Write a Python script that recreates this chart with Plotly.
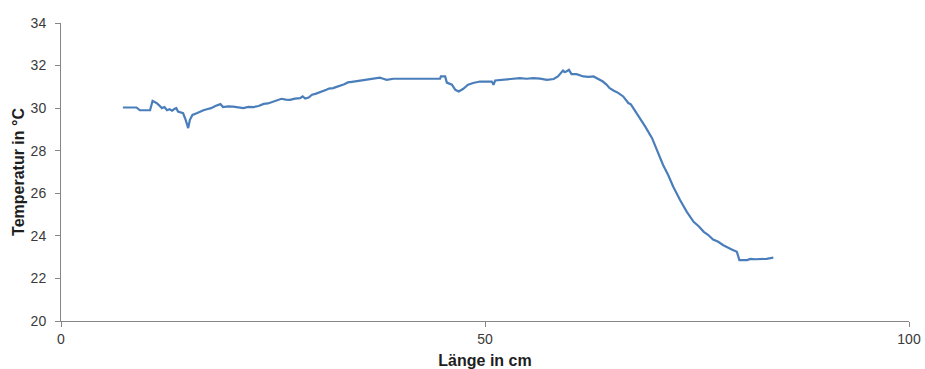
import plotly.graph_objects as go

# Temperature profile along the sample
laenge_cm = [7.3, 8.0, 8.9, 9.3, 10.0, 10.5, 10.8, 11.3, 11.6, 11.9, 12.2, 12.5, 12.8, 13.1,
             13.4, 13.6, 13.8, 14.4, 14.7, 15.0, 15.2, 15.5, 16.0, 16.4, 16.8, 17.2, 17.7,
             18.2, 18.8, 19.1, 19.7, 20.3, 20.9, 21.5, 22.1, 22.7, 23.3, 23.9, 24.4, 25.0,
             25.5, 26.0, 26.5, 27.0, 27.6, 28.2, 28.5, 28.8, 29.2, 29.6, 30.0, 30.5, 30.9,
             31.3, 31.6, 32.1, 32.5, 32.9, 33.4, 33.9, 34.1, 34.7, 35.3, 35.9, 36.4, 37.0,
             37.6, 38.0, 38.4, 39.2, 44.7, 44.8, 45.3, 45.5, 46.1, 46.5, 46.9, 47.4, 48.0,
             48.6, 49.4, 50.8, 51.0, 51.2, 51.9, 52.6, 53.3, 54.1, 54.9, 55.7, 56.5, 57.3,
             58.1, 58.6, 59.2, 59.4, 59.6, 59.9, 60.2, 60.8, 61.6, 62.2, 62.8, 63.2, 63.6,
             63.9, 64.3, 64.7, 65.2, 65.7, 66.3, 66.9, 67.2, 67.5, 68.1, 68.5, 68.9, 69.7,
             70.4, 71.0, 71.6, 72.2, 73.0, 73.8, 74.6, 75.2, 75.8, 76.3, 76.9, 77.5, 78.1,
             78.6, 79.1, 79.7, 80.0, 80.9, 81.3, 81.9, 82.4, 83.2, 84.0]
temperatur_c = [30.03, 30.02, 30.03, 29.9, 29.9, 29.9, 30.34, 30.23, 30.12, 30.0, 30.05, 29.9,
                29.95, 29.88, 29.97, 30.0, 29.84, 29.76, 29.45, 29.06, 29.45, 29.68, 29.76,
                29.84, 29.9, 29.95, 30.0, 30.1, 30.19, 30.05, 30.08, 30.07, 30.03, 30.0, 30.06,
                30.05, 30.1, 30.2, 30.22, 30.31, 30.36, 30.44, 30.4, 30.39, 30.45, 30.47,
                30.55, 30.45, 30.5, 30.63, 30.67, 30.73, 30.8, 30.86, 30.92, 30.94, 31.0,
                31.05, 31.12, 31.22, 31.22, 31.26, 31.3, 31.33, 31.37, 31.4, 31.43, 31.38,
                31.33, 31.38, 31.38, 31.49, 31.49, 31.2, 31.1, 30.86, 30.78, 30.9, 31.1,
                31.18, 31.25, 31.25, 31.1, 31.3, 31.33, 31.37, 31.4, 31.41, 31.38, 31.41,
                31.39, 31.33, 31.37, 31.49, 31.77, 31.7, 31.72, 31.8, 31.6, 31.6, 31.49,
                31.47, 31.49, 31.41, 31.33, 31.25, 31.12, 30.94, 30.82, 30.72, 30.55, 30.24,
                30.18, 30.0, 29.6, 29.4, 29.13, 28.59, 27.88, 27.33, 26.86, 26.31, 25.68,
                25.13, 24.66, 24.45, 24.19, 24.05, 23.83, 23.72, 23.56, 23.45, 23.36, 23.25,
                22.86, 22.86, 22.92, 22.9, 22.9, 22.92, 22.98]

x_ticks = [0, 50, 100]
y_ticks = [20, 22, 24, 26, 28, 30, 32, 34]

axis_color = "#868686"
text_color = "#3A3A3A"
title_color = "#1E1E1E"
font_family = "Liberation Sans, Arial, sans-serif"

fig = go.Figure(
    go.Scatter(
        x=laenge_cm,
        y=temperatur_c,
        mode="lines",
        line=dict(color="#4A7EBB", width=2.2),
        showlegend=False,
    )
)

fig.update_layout(
    width=925,
    height=369,
    margin=dict(l=61, r=16, t=23, b=48),
    paper_bgcolor="white",
    plot_bgcolor="white",
    font=dict(family=font_family, size=14, color=text_color),
)

fig.update_xaxes(
    range=[0, 100],
    tickvals=x_ticks,
    automargin=False,
    showgrid=False,
    zeroline=False,
    showline=True,
    linecolor=axis_color,
    linewidth=1,
    ticks="outside",
    ticklen=5,
    tickcolor=axis_color,
    tickfont=dict(size=14, color=text_color),
    title=dict(text="<b>Länge in cm</b>", font=dict(size=16, color=title_color), standoff=9),
)

fig.update_yaxes(
    range=[20, 34],
    tickvals=y_ticks,
    automargin=False,
    showgrid=False,
    zeroline=False,
    showline=True,
    linecolor=axis_color,
    linewidth=1,
    ticks="outside",
    ticklen=5,
    tickcolor=axis_color,
    ticklabelstandoff=6,
    tickfont=dict(size=14, color=text_color),
    title=dict(text="<b>Temperatur in °C</b>", font=dict(size=16, color=title_color), standoff=2),
)

fig.write_html("out.html")
